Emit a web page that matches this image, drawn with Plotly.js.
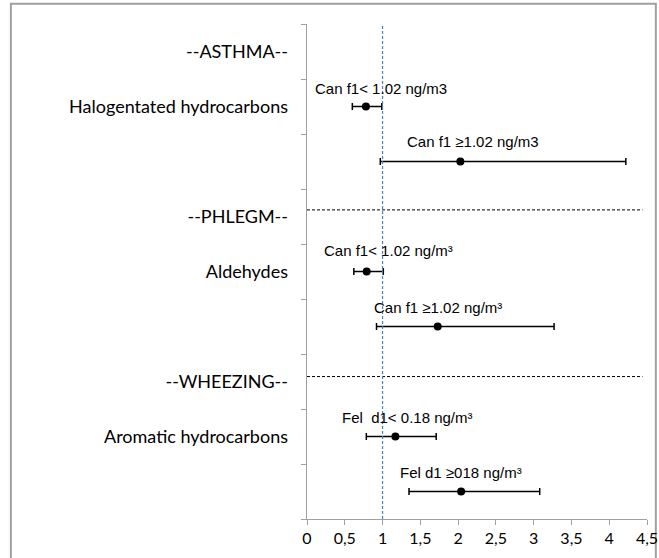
<!DOCTYPE html>
<html>
<head>
<meta charset="utf-8">
<script src="https://cdn.plot.ly/plotly-3.0.1.min.js"></script>
<style>
html,body{margin:0;padding:0;background:#fff;}
#chart{width:659px;height:558px;}
</style>
</head>
<body>
<div id="chart"></div>
<script>
// ---- data ----
const rowLabels = ["--ASTHMA--", "Halogentated hydrocarbons", "--PHLEGM--", "Aldehydes", "--WHEEZING--", "Aromatic hydrocarbons"];
const rowPositions = [8.5, 7.5, 5.5, 4.5, 2.5, 1.5];
const pointLabels = ["Can f1< 1.02 ng/m3", "Can f1 \u22651.02 ng/m3", "Can f1< 1.02 ng/m\u00b3", "Can f1 \u22651.02 ng/m\u00b3", "Fel  d1< 0.18 ng/m\u00b3", "Fel d1 \u2265018 ng/m\u00b3"];
const pointY = [7.5, 6.5, 4.5, 3.5, 1.5, 0.5];
const estimate = [0.78, 2.03, 0.79, 1.73, 1.17, 2.04];
const ciLow = [0.60, 0.97, 0.62, 0.92, 0.785, 1.35];
const ciHigh = [0.99, 4.22, 1.01, 3.27, 1.71, 3.08];
const separatorY = [5.62, 2.59];
const referenceX = 1;
const xTicks = [0, 0.5, 1, 1.5, 2, 2.5, 3, 3.5, 4, 4.5];
const xTickText = ["0", "0,5", "1", "1,5", "2", "2,5", "3", "3,5", "4", "4,5"];
const yTicks = [0, 1, 2, 3, 4, 5, 6, 7, 8, 9];

// ---- chart ----
const labelShiftX = [15, 13, 22, 0, 12, 0];
const labelShiftY = [18, 20, 21, 19, 19, 19];

const trace = {
  type: "scatter",
  mode: "markers",
  x: estimate,
  y: pointY,
  marker: {color: "#000", size: 8},
  error_x: {
    type: "data",
    symmetric: false,
    array: estimate.map((e, i) => ciHigh[i] - e),
    arrayminus: estimate.map((e, i) => e - ciLow[i]),
    color: "#000",
    thickness: 1.5,
    width: 3.5
  },
  hoverinfo: "x+y",
  showlegend: false
};

const labelTrace = {
  type: "scatter",
  mode: "markers",
  x: [0],
  y: rowPositions,
  yaxis: "y2",
  marker: {opacity: 0},
  hoverinfo: "skip",
  showlegend: false
};

const shapes = [];
separatorY.forEach(v => shapes.push({
  type: "line", xref: "x", yref: "y",
  x0: 0, x1: 4.44, y0: v, y1: v,
  line: {color: "#000", width: 1, dash: "3px,2px"}
}));
shapes.push({
  type: "line", xref: "x", yref: "y",
  x0: referenceX, x1: referenceX, y0: 0, y1: 9.03,
  line: {color: "#4a7fc4", width: 1.2, dash: "3px,2px"}
});
// outer frame
shapes.push({
  type: "rect", xref: "paper", yref: "paper",
  x0: -0.871, x1: 1.026, y0: -0.1, y1: 1.041,
  line: {color: "#a0a0a0", width: 2},
  layer: "below"
});

const annotations = pointLabels.map((t, i) => ({
  x: estimate[i], y: pointY[i], xref: "x", yref: "y",
  text: t, showarrow: false,
  xshift: labelShiftX[i], yshift: labelShiftY[i],
  font: {family: "Liberation Sans, Arial, sans-serif", size: 15, color: "#000"}
}));

const layout = {
  width: 659, height: 558,
  margin: {l: 306.7, r: 12.3, t: 24, b: 39, pad: 0},
  paper_bgcolor: "#fff",
  plot_bgcolor: "#fff",
  showlegend: false,
  xaxis: {
    range: [0, 4.5],
    tickvals: xTicks,
    ticktext: xTickText,
    ticks: "outside",
    ticklen: 5,
    tickcolor: "#a0a0a0",
    showline: true,
    linecolor: "#a0a0a0",
    linewidth: 1,
    showgrid: false,
    zeroline: false,
    tickfont: {family: "Lato, sans-serif", size: 16, color: "#000"},
    fixedrange: true
  },
  yaxis: {
    range: [0, 9],
    tickvals: yTicks,
    showticklabels: false,
    ticks: "outside",
    ticklen: 5,
    tickcolor: "#a0a0a0",
    showline: true,
    linecolor: "#a0a0a0",
    linewidth: 1,
    showgrid: false,
    zeroline: false,
    fixedrange: true
  },
  yaxis2: {
    range: [0, 9],
    overlaying: "y",
    side: "left",
    tickvals: rowPositions,
    ticktext: rowLabels,
    ticks: "",
    ticklabelstandoff: 18,
    showline: false,
    showgrid: false,
    zeroline: false,
    tickfont: {family: "Lato, sans-serif", size: 18, color: "#000"},
    fixedrange: true
  },
  shapes: shapes,
  annotations: annotations
};

Plotly.newPlot("chart", [labelTrace, trace], layout, {displayModeBar: false, staticPlot: true});
</script>
</body>
</html>
